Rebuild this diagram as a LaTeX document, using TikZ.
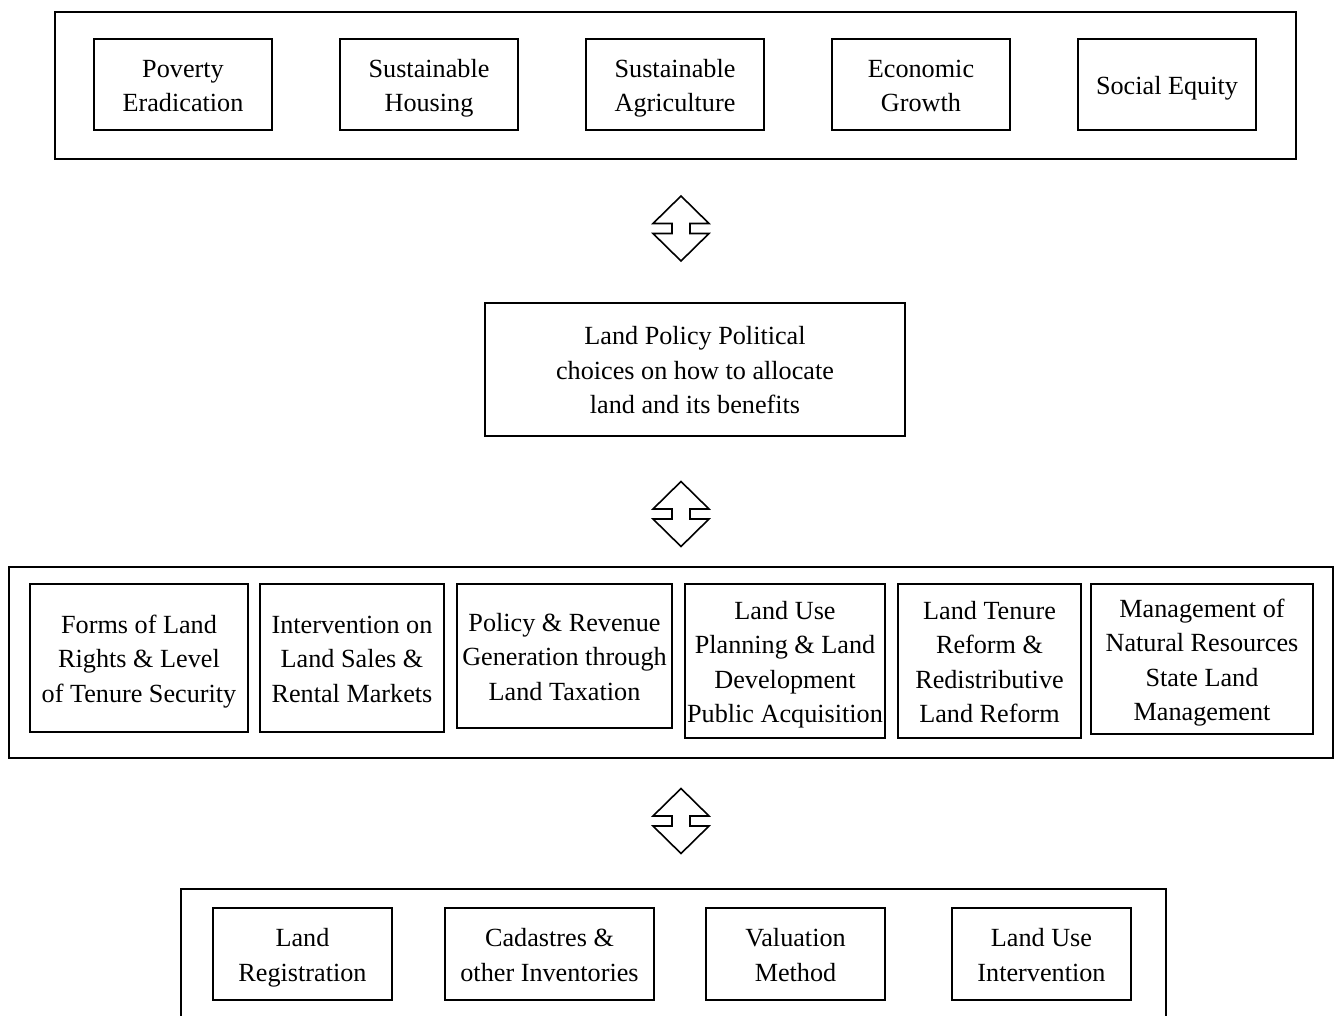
\documentclass[tikz,border=0pt]{standalone}
\usepackage{fontspec}
\setmainfont{Liberation Serif}
\usetikzlibrary{calc}
\tikzset{
  box/.style={draw, line width=2pt, inner sep=0pt,
    font=\fontsize{26.2}{34.5}\selectfont},
  outer/.style={draw, line width=2pt, inner sep=0pt},
  dblarrow/.pic={\draw[line width=1.6pt, line join=miter]
    (0,-32.5) -- (-28,-5) -- (-9,-5) -- (-9,5) -- (-28,5) -- (0,32.5)
    -- (28,5) -- (9,5) -- (9,-5) -- (28,-5) -- cycle;}
}
\newcommand\bx[6]{%
  \pgfmathsetmacro\cxx{(#2+#4)/2}\pgfmathsetmacro\cyy{(#3+#5)/2}%
  \pgfmathsetmacro\ww{#4-#2}\pgfmathsetmacro\hh{#5-#3}%
  \node[box, minimum width=\ww pt, minimum height=\hh pt] (#1) at (\cxx,\cyy)
    {\raisebox{-3pt}[\height][\depth]{\begin{tabular}{@{}c@{}}#6\end{tabular}}};}
\newcommand\ob[5]{%
  \pgfmathsetmacro\cxx{(#2+#4)/2}\pgfmathsetmacro\cyy{(#3+#5)/2}%
  \pgfmathsetmacro\ww{#4-#2}\pgfmathsetmacro\hh{#5-#3}%
  \node[outer, minimum width=\ww pt, minimum height=\hh pt] (#1) at (\cxx,\cyy) {};}
\begin{document}
\begin{tikzpicture}[x=1pt,y=-1pt]
\useasboundingbox (0,0) rectangle (1338,1016);
\clip (0,0) rectangle (1338,1016);
% top group
\ob{topgroup}{55}{12}{1296}{159}
\bx{t1}{94}{39}{272}{130}{Poverty\\Eradication}
\bx{t2}{340}{39}{518}{130}{Sustainable\\Housing}
\bx{t3}{586}{39}{764}{130}{Sustainable\\Agriculture}
\bx{t4}{832}{39}{1010}{130}{Economic\\Growth}
\bx{t5}{1078}{39}{1256}{130}{Social Equity}
% arrow 1
\coordinate (a1) at (681,228.5);
\pic at (a1) {dblarrow};
% middle box
\bx{policy}{485}{303}{905}{436}{Land Policy Political\\choices on how to allocate\\land and its benefits}
% arrow 2
\coordinate (a2) at (681,514);
\pic at (a2) {dblarrow};
% third group
\ob{midgroup}{9}{567}{1333}{758}
\bx{m1}{30}{584}{248}{732}{Forms of Land\\Rights \& Level\\of Tenure Security}
\bx{m2}{260}{584}{444}{732}{Intervention on\\Land Sales \&\\Rental Markets}
\bx{m3}{457}{584}{672}{728}{Policy \& Revenue\\Generation through\\Land Taxation}
\bx{m4}{685}{584}{885}{738}{Land Use\\Planning \& Land\\Development\\Public Acquisition}
\bx{m5}{898}{584}{1081}{738}{Land Tenure\\Reform \&\\Redistributive\\Land Reform}
\bx{m6}{1091}{584}{1313}{734}{Management of\\Natural Resources\\State Land\\Management}
% arrow 3
\coordinate (a3) at (681,821);
\pic at (a3) {dblarrow};
% bottom group
\ob{botgroup}{181}{889}{1166}{1040}
\bx{b1}{213}{908}{392}{1000}{Land\\Registration}
\bx{b2}{445}{908}{654}{1000}{Cadastres \&\\other Inventories}
\bx{b3}{706}{908}{885}{1000}{Valuation\\Method}
\bx{b4}{952}{908}{1131}{1000}{Land Use\\Intervention}
\end{tikzpicture}
\end{document}
